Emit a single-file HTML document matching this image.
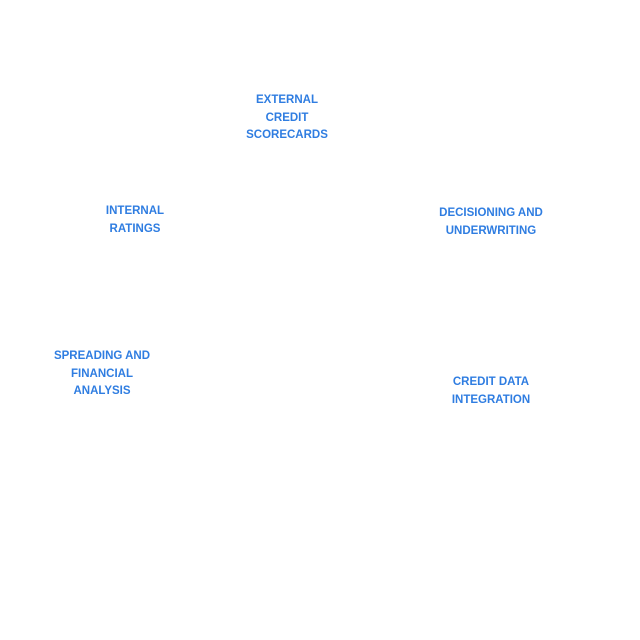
<!DOCTYPE html>
<html><head><meta charset="utf-8"><style>
html,body{margin:0;padding:0;background:#fff;width:640px;height:640px;overflow:hidden}
.l{position:absolute;transform:translateX(-50%);text-align:center;white-space:nowrap;
font-family:"Liberation Sans",sans-serif;font-weight:bold;font-size:11.5px;line-height:17.7px;color:#2f7de1}
</style></head><body>
<div class="l" style="left:287px;top:92px">EXTERNAL<br>CREDIT<br>SCORECARDS</div>
<div class="l" style="left:135px;top:203px">INTERNAL<br>RATINGS</div>
<div class="l" style="left:491px;top:205px">DECISIONING AND<br>UNDERWRITING</div>
<div class="l" style="left:102px;top:348px">SPREADING AND<br>FINANCIAL<br>ANALYSIS</div>
<div class="l" style="left:491px;top:374px">CREDIT DATA<br>INTEGRATION</div>
</body></html>
